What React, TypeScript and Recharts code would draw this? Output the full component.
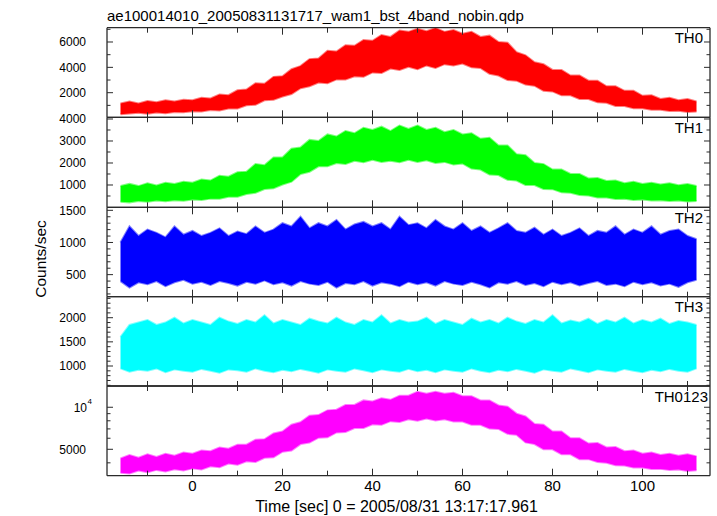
import React from 'react';
import { ComposedChart, Area, XAxis, YAxis } from 'recharts';

const FONT = '"Liberation Sans", Arial, Helvetica, sans-serif';
const AXIS = '#2b2b2b';

// bin centre times [sec], 2 s bins
const times = [-16, -14, -12, -10, -8, -6, -4, -2, 0, 2, 4, 6, 8, 10, 12, 14, 16, 18, 20, 22, 24, 26, 28, 30, 32, 34, 36, 38, 40, 42, 44, 46, 48, 50, 52, 54, 56, 58, 60, 62, 64, 66, 68, 70, 72, 74, 76, 78, 80, 82, 84, 86, 88, 90, 92, 94, 96, 98, 100, 102, 104, 106, 108, 110, 112];

// upper / lower envelope of the counts in each bin
const th0Hi = [1150, 1300, 1150, 1350, 1250, 1400, 1300, 1450, 1400, 1600, 1550, 1850, 1800, 2200, 2250, 2750, 2700, 3250, 3300, 3850, 4100, 4650, 4700, 5300, 5250, 5750, 5700, 6150, 6100, 6550, 6400, 6900, 6800, 7050, 6850, 7100, 6800, 6950, 6650, 6800, 6400, 6500, 6000, 5950, 5200, 4950, 4400, 4250, 3800, 3800, 3350, 3350, 2950, 2950, 2500, 2500, 2150, 2150, 1750, 1800, 1500, 1600, 1400, 1500, 1300];
const th0Lo = [300, 350, 420, 330, 430, 380, 470, 450, 540, 520, 630, 600, 760, 750, 1000, 1050, 1400, 1450, 1700, 1900, 2350, 2500, 2800, 2750, 3050, 3050, 3300, 3250, 3600, 3550, 3900, 3800, 4050, 3850, 4150, 3950, 4250, 4150, 4300, 4000, 3950, 3500, 3350, 3000, 2950, 2650, 2550, 2150, 2100, 1800, 1800, 1500, 1500, 1250, 1200, 950, 950, 780, 770, 650, 650, 550, 580, 480, 520];

const th1Hi = [950, 1050, 950, 1080, 980, 1100, 1050, 1150, 1100, 1250, 1200, 1420, 1380, 1580, 1600, 1950, 1900, 2250, 2250, 2650, 2700, 3050, 3000, 3300, 3200, 3450, 3350, 3600, 3500, 3650, 3450, 3700, 3550, 3700, 3500, 3600, 3400, 3500, 3300, 3350, 3100, 3150, 2800, 2800, 2400, 2350, 2000, 1950, 1700, 1700, 1500, 1500, 1300, 1320, 1180, 1200, 1080, 1150, 1050, 1100, 1020, 1080, 990, 1050, 950];
const th1Lo = [240, 210, 270, 240, 290, 260, 310, 280, 340, 320, 380, 380, 460, 460, 590, 650, 820, 850, 1020, 1150, 1500, 1600, 1850, 1850, 2000, 1950, 2100, 2030, 2150, 2050, 2100, 2030, 2150, 2050, 2120, 2000, 2050, 1930, 1980, 1750, 1700, 1480, 1450, 1240, 1200, 1000, 1000, 820, 810, 670, 650, 540, 520, 430, 430, 360, 370, 320, 340, 290, 310, 270, 290, 250, 270];

const th2Hi = [1000, 1250, 1100, 1200, 1150, 1080, 1250, 1120, 1180, 1100, 1150, 1220, 1100, 1170, 1130, 1250, 1150, 1200, 1300, 1250, 1400, 1220, 1300, 1250, 1350, 1200, 1280, 1320, 1250, 1300, 1200, 1400, 1270, 1300, 1220, 1350, 1250, 1200, 1300, 1180, 1250, 1150, 1220, 1300, 1180, 1150, 1230, 1120, 1200, 1100, 1150, 1220, 1100, 1180, 1150, 1250, 1120, 1200, 1150, 1250, 1120, 1180, 1200, 1100, 1050];
const th2Lo = [400, 300, 380, 350, 400, 320, 380, 420, 360, 390, 340, 400, 370, 330, 390, 360, 410, 350, 380, 330, 400, 360, 340, 390, 300, 370, 350, 400, 330, 380, 360, 320, 390, 350, 380, 330, 400, 360, 340, 390, 350, 300, 380, 360, 400, 340, 370, 320, 390, 350, 380, 330, 370, 400, 340, 360, 320, 390, 350, 380, 330, 360, 310, 380, 420];

const th3Hi = [1600, 1850, 1900, 1950, 1850, 1900, 2000, 1880, 1950, 1900, 1850, 2000, 1920, 1870, 1950, 1900, 2050, 1880, 1950, 1900, 1850, 1980, 1920, 1880, 2000, 1900, 1850, 1950, 1900, 2050, 1880, 1950, 1900, 1920, 2000, 1870, 1950, 1900, 1850, 1980, 1900, 1950, 1880, 2000, 1920, 1870, 1950, 1900, 2050, 1880, 1940, 1900, 1980, 1870, 1950, 1900, 2000, 1880, 1950, 1900, 1980, 1870, 1930, 1900, 1850];
const th3Lo = [950, 880, 920, 900, 950, 870, 930, 900, 880, 940, 900, 860, 930, 910, 880, 950, 900, 870, 920, 890, 940, 900, 860, 930, 900, 880, 950, 910, 870, 930, 900, 880, 940, 890, 920, 870, 930, 900, 880, 950, 900, 870, 920, 890, 940, 900, 860, 930, 900, 880, 950, 910, 870, 930, 900, 880, 940, 900, 870, 920, 890, 940, 900, 880, 950];

const th0123Hi = [4300, 4550, 4350, 4600, 4400, 4650, 4500, 4750, 4650, 4900, 4850, 5150, 5050, 5400, 5400, 5850, 5900, 6500, 6700, 7500, 7800, 8700, 8800, 9500, 9600, 10400, 10400, 11200, 11000, 11600, 11300, 12100, 12100, 12900, 12500, 12900, 12500, 12700, 12000, 12000, 11200, 11200, 10300, 10100, 9000, 8600, 7600, 7500, 6700, 6700, 6000, 6000, 5500, 5550, 5150, 5200, 4850, 4900, 4650, 4750, 4550, 4650, 4500, 4600, 4450];
const th0123Lo = [3400, 3350, 3520, 3420, 3560, 3470, 3600, 3520, 3650, 3580, 3780, 3720, 3950, 3880, 4100, 4050, 4350, 4380, 4800, 4900, 5450, 5600, 6050, 6100, 6600, 6650, 7100, 7100, 7550, 7500, 7950, 7850, 8200, 8000, 8300, 8050, 8200, 7900, 7900, 7500, 7500, 7050, 7000, 6450, 6350, 5600, 5450, 5000, 5000, 4600, 4600, 4250, 4250, 4050, 4000, 3850, 3820, 3700, 3700, 3620, 3620, 3550, 3580, 3500, 3540];

const xMajor = [0, 20, 40, 60, 80, 100];
const xMinor = [-10, 10, 30, 50, 70, 90, 110];

const th0Major = [2000, 4000, 6000];
const th0Minor = [1000, 3000, 5000, 7000];
const th1Major = [1000, 2000, 3000, 4000];
const th1Minor = [500, 1500, 2500, 3500];
const th2Major = [500, 1000, 1500];
const th2Minor = [200, 300, 400, 600, 700, 800, 900, 1100, 1200, 1300, 1400];
const th3Major = [1000, 1500, 2000];
const th3Minor = [600, 700, 800, 900, 1100, 1200, 1300, 1400, 1600, 1700, 1800, 1900, 2100, 2200, 2300, 2400];
const th0123Major = [5000, 10000];
const th0123Minor = [4000, 6000, 7000, 8000, 9000];

const rows = times.map((t, i) => ({
  t,
  th0: [th0Lo[i], th0Hi[i]],
  th1: [th1Lo[i], th1Hi[i]],
  th2: [th2Lo[i], th2Hi[i]],
  th3: [th3Lo[i], th3Hi[i]],
  th0123: [th0123Lo[i], th0123Hi[i]],
}));

const X_DOMAIN = [-19, 115];

const panels = [
  { key: 'th0', name: 'TH0', color: '#ff0000', top: 27.7, bottom: 117.3, domain: [59, 7128], scale: 'linear', major: th0Major, minor: th0Minor },
  { key: 'th1', name: 'TH1', color: '#00ff00', top: 117.3, bottom: 207.3, domain: [-14, 4077], scale: 'linear', major: th1Major, minor: th1Minor },
  { key: 'th2', name: 'TH2', color: '#0000ff', top: 207.3, bottom: 296.7, domain: [157, 1547], scale: 'linear', major: th2Major, minor: th2Minor },
  { key: 'th3', name: 'TH3', color: '#00ffff', top: 296.7, bottom: 386, domain: [586, 2435], scale: 'linear', major: th3Major, minor: th3Minor },
  { key: 'th0123', name: 'TH0123', color: '#ff00ff', top: 386, bottom: 475.7, domain: [3235, 14200], scale: 'log', major: th0123Major, minor: th0123Minor },
];

const XTick = (props: any) => {
  const { x, y, payload, dir, labels } = props;
  const major = xMajor.includes(payload.value);
  const len = major ? 7 : 5;
  return (
    <g>
      <path d={`M${x},${y}V${y + dir * len}`} stroke={AXIS} strokeWidth={1} fill="none" />
      {labels && major && (
        <text x={x} y={y + 15.5} textAnchor="middle" fontSize={15} fontFamily={FONT} fill="#000">
          {payload.value}
        </text>
      )}
    </g>
  );
};

const YTick = (props: any) => {
  const { x, y, payload, dir, labels, majors } = props;
  const v = payload.value;
  const major = majors.includes(v);
  const len = major ? 6 : 3.5;
  return (
    <g>
      <path d={`M${x},${y}H${x + dir * len}`} stroke={AXIS} strokeWidth={1} fill="none" />
      {labels && major && v === 10000 && (
        <g fontFamily={FONT} fill="#000">
          <text x={x - 20} y={y} dy="0.36em" textAnchor="end" fontSize={12}>10</text>
          <text x={x - 19.5} y={y - 3} textAnchor="start" fontSize={8}>4</text>
        </g>
      )}
      {labels && major && v !== 10000 && (
        <text x={x - 21} y={y} dy="0.36em" textAnchor="end" fontSize={12} fontFamily={FONT} fill="#000">
          {v}
        </text>
      )}
    </g>
  );
};

const Panel = ({ p, last }: { p: any; last: boolean }) => {
  const chartTop = Math.floor(p.top) - 12;
  const height = Math.ceil(p.bottom) + (last ? 24 : 12) - chartTop;
  // x axes take 1px each, so pull the margins in by that much
  const margin = { top: p.top - chartTop - 1, bottom: chartTop + height - p.bottom - 1, left: 0, right: 0 };
  const yTicks = [...p.minor, ...p.major];
  const xTicks = [...xMinor, ...xMajor];
  const axisLine = { stroke: AXIS, strokeWidth: 1.3 };
  return (
    <div style={{ position: 'absolute', left: 0, top: chartTop }}>
      <ComposedChart width={717} height={height} data={rows} margin={margin}>
        <XAxis xAxisId="b" dataKey="t" type="number" domain={X_DOMAIN} allowDataOverflow ticks={xTicks} interval={0}
          height={1} tickSize={0} tickMargin={0} tickLine={false} axisLine={axisLine} stroke={AXIS}
          tick={(q: any) => <XTick {...q} dir={-1} labels={last} />} />
        <XAxis xAxisId="t" orientation="top" dataKey="t" type="number" domain={X_DOMAIN} allowDataOverflow ticks={xTicks} interval={0}
          height={1} tickSize={0} tickMargin={0} tickLine={false} axisLine={axisLine} stroke={AXIS}
          tick={(q: any) => <XTick {...q} dir={1} labels={false} />} />
        <YAxis yAxisId="l" type="number" scale={p.scale} domain={p.domain} allowDataOverflow ticks={yTicks} interval={0}
          width={107} tickSize={0} tickMargin={0} tickLine={false} axisLine={axisLine} stroke={AXIS}
          tick={(q: any) => <YTick {...q} dir={1} labels={true} majors={p.major} />} />
        <YAxis yAxisId="r" orientation="right" type="number" scale={p.scale} domain={p.domain} allowDataOverflow ticks={yTicks} interval={0}
          width={7} tickSize={0} tickMargin={0} tickLine={false} axisLine={axisLine} stroke={AXIS}
          tick={(q: any) => <YTick {...q} dir={-1} labels={false} majors={p.major} />} />
        <Area xAxisId="b" yAxisId="l" dataKey={p.key} type="linear" fill={p.color} fillOpacity={1}
          stroke={p.color} strokeOpacity={0.5} strokeWidth={2} dot={false} activeDot={false} isAnimationActive={false} />
      </ComposedChart>
    </div>
  );
};

export default function App() {
  return (
    <div style={{ position: 'absolute', left: 0, top: 0, width: 717, height: 516, background: '#fff' }}>
      {panels.map((p, i) => (
        <Panel key={p.key} p={p} last={i === panels.length - 1} />
      ))}
      <svg width={717} height={516} style={{ position: 'absolute', left: 0, top: 0, pointerEvents: 'none' }}>
        <g fontFamily={FONT} fill="#000">
          <text x={107} y={21} fontSize={15}>ae100014010_20050831131717_wam1_bst_4band_nobin.qdp</text>
          {panels.map((p) => (
            <text key={p.key} x={p.name === 'TH0123' ? 708 : 703} y={p.top + 15.5} textAnchor="end" fontSize={15}>
              {p.name}
            </text>
          ))}
          <text x={46} y={259} transform="rotate(-90 46 259)" textAnchor="middle" fontSize={15.5}>Counts/sec</text>
          <text x={396.5} y={511.5} textAnchor="middle" fontSize={16}>Time [sec] 0 = 2005/08/31 13:17:17.961</text>
        </g>
      </svg>
    </div>
  );
}
